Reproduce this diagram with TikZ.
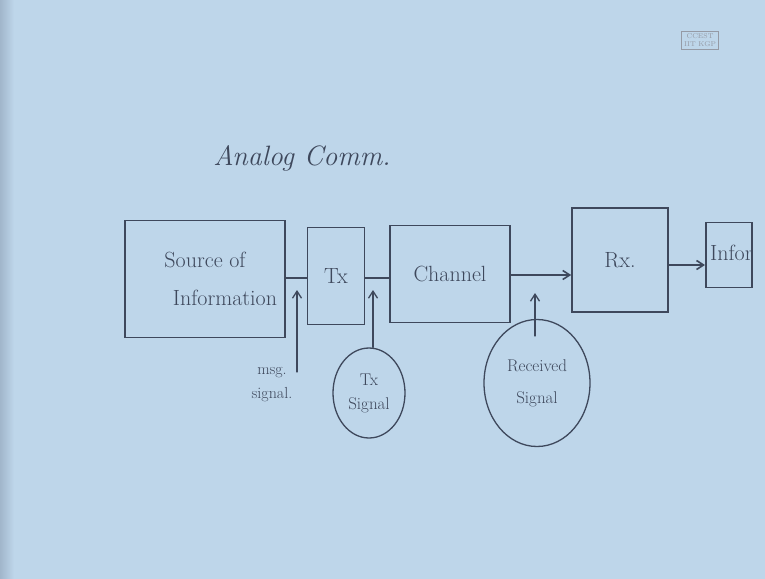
\documentclass[tikz,border=0pt]{standalone}
\usetikzlibrary{arrows.meta,shapes.geometric}
\definecolor{board}{RGB}{190,214,234}
\definecolor{boardedge}{RGB}{150,170,192}
\definecolor{ink}{RGB}{62,72,92}
\tikzset{
  pen/.style={draw=ink,line width=1.6pt,line cap=round},
  blk/.style={pen,rectangle,inner sep=0pt,text=ink,align=center,font=\fontsize{22}{30}\selectfont},
  ovl/.style={draw=ink,line width=1.3pt,ellipse,inner sep=0pt,text=ink,align=center,font=\fontsize{17}{24}\selectfont},
  lbl/.style={text=ink,align=center,inner sep=0pt},
  tip/.style={-{Straight Barb[length=7pt,width=9pt]}}
}
\begin{document}
\begin{tikzpicture}[x=1pt,y=-1pt]
\useasboundingbox (0,0) rectangle (765,578);
\clip (0,0) rectangle (765,578);
\fill[board] (-5,-5) rectangle (770,583);
\shade[left color=boardedge,right color=board] (-5,-5) rectangle (14,583);
% logo
\node[draw=ink!55,line width=0.7pt,text=ink!55,font=\fontsize{7}{8}\selectfont,align=center,inner sep=2.5pt] (logo) at (700,40) {CCEST\\IIT KGP};
% title
\node[lbl,font=\fontsize{28}{30}\selectfont\itshape] (title) at (302,158) {Analog Comm.};
% blocks
\node[blk,minimum width=160,minimum height=117] (src) at (205,279) {Source of\\[8pt]\hspace*{40pt}Information};
\node[blk,minimum width=57,minimum height=97] (tx) at (336,276) {Tx};
\node[blk,minimum width=120,minimum height=97] (ch) at (450,274) {Channel};
\node[blk,minimum width=96,minimum height=104] (rx) at (620,260) {Rx.};
\node[blk,minimum width=46,minimum height=65,anchor=west] (info) at (705,255) {};
\node[lbl,anchor=west,font=\fontsize{22}{26}\selectfont] (infotxt) at (710,253) {Infor};
% connectors
\draw[pen] (src.east |- 0,278) -- (tx.west |- 0,278);
\draw[pen] (tx.east |- 0,278) -- (ch.west |- 0,278);
\draw[pen,tip] (ch.east |- 0,275) -- (rx.west |- 0,275);
\draw[pen,tip] (rx.east |- 0,265) -- (info.west |- 0,265);
% annotations
\node[lbl,font=\fontsize{16}{24}\selectfont] (msg) at (272,385) {msg.\\signal.};
\coordinate (msgtail) at (297,372);
\coordinate (msghead) at (297,290);
\draw[pen,line width=1.3pt,tip] (msgtail) -- (msghead);
\node[ovl,minimum width=72,minimum height=90] (txs) at (369,393) {Tx\\Signal};
\coordinate (txhead) at (373,290);
\draw[pen,line width=1.3pt,tip] (txs.north -| txhead) -- (txhead);
\node[ovl,minimum width=106,minimum height=127] (rxs) at (537,383) {Received\\[8pt]Signal};
\coordinate (rxtail) at (535,336);
\coordinate (rxhead) at (535,293);
\draw[pen,line width=1.3pt,tip] (rxtail) -- (rxhead);
\end{tikzpicture}
\end{document}
